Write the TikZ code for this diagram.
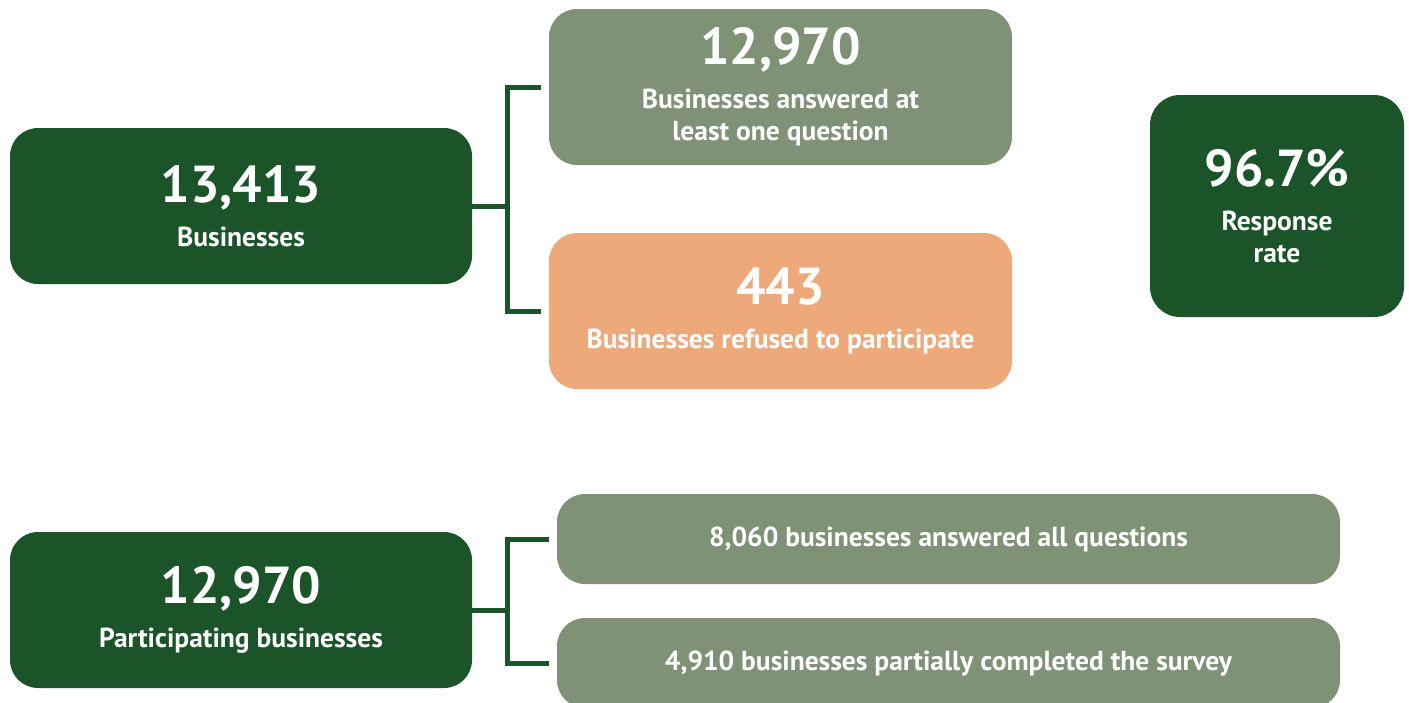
\documentclass[tikz,border=0pt]{standalone}
\usepackage{fontspec}
\setmainfont{PT Sans}
\usetikzlibrary{calc,positioning}
\definecolor{forestGreen}{HTML}{1B5429}
\definecolor{sageGreen}{HTML}{7F9276}
\definecolor{peachOrange}{HTML}{EEA97B}
\newcommand{\bignum}[1]{{\fontsize{52}{56}\selectfont #1}}

\begin{document}
\begin{tikzpicture}[
  x=1pt, y=-1pt,
  font=\fontsize{27.5}{32}\selectfont\bfseries,
  box/.style={rounded corners=28pt, text=white, align=center, inner sep=0pt},
  darkbox/.style={box, fill=forestGreen},
  sagebox/.style={box, fill=sageGreen},
  peachbox/.style={box, fill=peachOrange},
  bracket/.style={draw=forestGreen, line width=5pt}
]
\useasboundingbox (0,0) rectangle (1409,702);
\clip (0,0) rectangle (1409,702);

\node[darkbox, minimum width=462pt, minimum height=156pt] (total) at (241,206) {\bignum{13,413}\\[12pt]Businesses};
\node[sagebox, minimum width=463pt, minimum height=156pt] (answered) at (780.5,87) {\bignum{12,970}\\[12pt]Businesses answered at\\least one question};
\node[peachbox, minimum width=463pt, minimum height=156pt] (refused) at (780.5,311) {\bignum{443}\\[12pt]Businesses refused to participate};
\node[darkbox, minimum width=254pt, minimum height=222pt, rounded corners=30pt] (rate) at (1277,206) {\bignum{96.7\%}\\[12pt]Response\\rate};

\node[darkbox, minimum width=462pt, minimum height=156pt] (participating) at (241,610) {\bignum{12,970}\\[12pt]Participating businesses};
\node[sagebox, minimum width=783pt, minimum height=90pt] (allq) at (948.5,539) {8,060 businesses answered all questions};
\node[sagebox, minimum width=783pt, minimum height=90pt] (partial) at (948.5,663) {4,910 businesses partially completed the survey};

\coordinate (topfork) at ($(total.east)+(35,0)$);
\coordinate (botfork) at ($(participating.east)+(35,0)$);
\draw[bracket] (total.east) -- (topfork);
\draw[bracket] ([xshift=-8pt]answered.west) -| (topfork) |- ([xshift=-8pt]refused.west);
\draw[bracket] (participating.east) -- (botfork);
\draw[bracket] ([xshift=-8pt]allq.west) -| (botfork) |- ([xshift=-8pt]partial.west);
\end{tikzpicture}
\end{document}
